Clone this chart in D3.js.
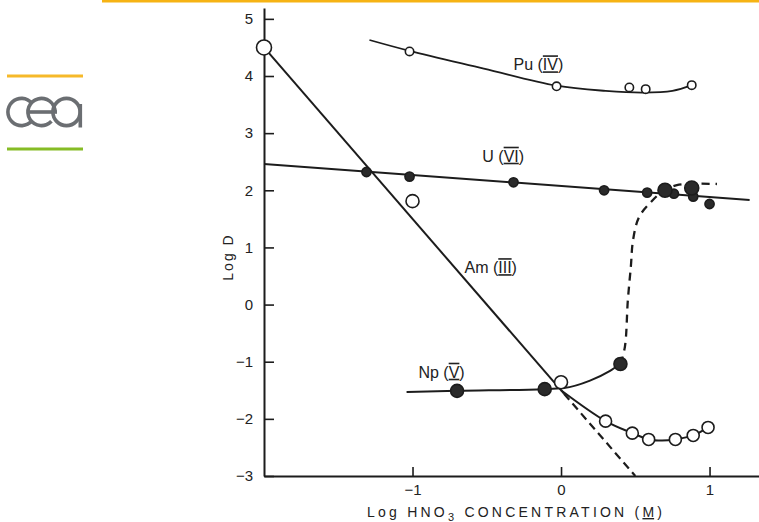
<!DOCTYPE html>
<html><head><meta charset="utf-8">
<script src="https://cdn.jsdelivr.net/npm/d3@7"></script>
<style>
html,body{margin:0;padding:0;background:#fff;}
svg text{font-family:"Liberation Sans",Arial,sans-serif;fill:#222;}
</style></head>
<body><svg id="c" width="759" height="522"></svg>
<script>
// ---- data ----
const yTicks = [-3,-2,-1,0,1,2,3,4,5];
const xTicks = [-1,0,1];
const amPoints = [[-2,4.5],[-1,1.81],[0,-1.36],[0.30,-2.04],[0.48,-2.25],[0.59,-2.36],[0.77,-2.36],[0.89,-2.29],[0.99,-2.15]];
const amRadius = [7.5,6.5,6.5,6,6,6,6,6,6];
const amLine = [[-2,4.5],[0.02,-1.56]];
const amDashed = [[0.02,-1.56],[0.5,-3]];
const amCurve = [[0.0,-1.5],[0.30,-2.04],[0.48,-2.25],[0.59,-2.36],[0.68,-2.38],[0.77,-2.36],[0.89,-2.29],[0.99,-2.15]];
const puPoints = [[-1.02,4.43],[-0.03,3.82],[0.46,3.80],[0.57,3.77],[0.88,3.84]];
const puCurve = [[-1.29,4.63],[-1.02,4.44],[-0.52,4.13],[-0.03,3.83],[0.3,3.74],[0.55,3.71],[0.75,3.74],[0.88,3.84]];
const uPoints = [[-1.31,2.32],[-1.02,2.24],[-0.32,2.14],[0.29,2.0],[0.58,1.96],[0.76,1.94],[0.89,1.89],[1.0,1.76]];
const uLine = [[-2,2.46],[1.27,1.83]];
const npPoints = [[-0.70,-1.51],[-0.11,-1.48],[0.40,-1.04]];
const npHigh = [[0.70,2.0],[0.88,2.04]];
const npCurve = [[-1.04,-1.53],[-0.70,-1.51],[-0.11,-1.48],[0.02,-1.46],[0.195,-1.33],[0.33,-1.16],[0.40,-1.04]];
const npDashed = [[0.40,-1.04],[0.43,-0.74],[0.45,0.08],[0.47,0.66],[0.485,1.13],[0.525,1.53],[0.60,1.78],[0.68,1.97],[0.78,2.09],[1.05,2.11]];
const labels = [
  {pre:"Pu (",num:"IV",post:")",x:-0.32,y:4.1},
  {pre:"U (",num:"VI",post:")",x:-0.53,y:2.5},
  {pre:"Am (",num:"III",post:")",x:-0.65,y:0.55},
  {pre:"Np (",num:"V",post:")",x:-0.96,y:-1.28}
];
const xLabel = ["Log  HNO","3","  CONCENTRATION (","M",")"];
const yLabel = "Log  D";

// ---- chart ----
const svg = d3.select("#c");
const ink = "#1c1c1c";
// decorative header/logo
svg.append("line").attr("x1",102).attr("x2",759).attr("y1",1).attr("y2",1).attr("stroke","#f6b314").attr("stroke-width",3);
const logo = svg.append("g");
logo.append("line").attr("x1",7).attr("x2",83).attr("y1",76).attr("y2",76).attr("stroke","#f6b92a").attr("stroke-width",3);
logo.append("line").attr("x1",7).attr("x2",83).attr("y1",149).attr("y2",149).attr("stroke","#86bc25").attr("stroke-width",3);
const lg = "#6b6e72", lw = 3.6, R = 11.8;
const arc = d3.arc();
const PI = Math.PI;
// c : opening on the right
logo.append("path").attr("transform","translate(21.5,112)")
  .attr("d",arc({innerRadius:R,outerRadius:R+lw,startAngle:PI/2+0.7,endAngle:PI/2+2*PI-0.7})).attr("fill",lg);
// e : opening lower right, bar across the middle
logo.append("path").attr("transform","translate(41.5,112)")
  .attr("d",arc({innerRadius:R,outerRadius:R+lw,startAngle:PI/2+0.75,endAngle:PI/2+2*PI})).attr("fill",lg);
logo.append("rect").attr("x",28).attr("y",110.2).attr("width",29).attr("height",lw).attr("fill",lg);
// a
logo.append("circle").attr("cx",66.5).attr("cy",112).attr("r",R+lw/2).attr("fill","none").attr("stroke",lg).attr("stroke-width",lw);
logo.append("rect").attr("x",78.5).attr("y",104).attr("width",lw).attr("height",23.5).attr("fill",lg);

const x = d3.scaleLinear().domain([-2,1.333]).range([264,759]);
const y = d3.scaleLinear().domain([-3,5.19]).range([476,8]);

const yAxis = svg.append("g").attr("transform","translate(264,0)")
  .call(d3.axisLeft(y).tickValues(yTicks).tickSize(-10).tickSizeOuter(0).tickPadding(11).tickFormat(d3.format("d")));
const xAxis = svg.append("g").attr("transform","translate(0,476)")
  .call(d3.axisBottom(x).tickValues(xTicks).tickSize(-9).tickSizeOuter(0).tickPadding(8).tickFormat(d3.format("d")));
[yAxis,xAxis].forEach(a=>{
  a.select(".domain").attr("stroke",ink).attr("stroke-width",2);
  a.selectAll(".tick line").attr("stroke",ink).attr("stroke-width",1.6);
  a.selectAll(".tick text").attr("font-size",15).attr("fill","#222")
    .style("font-family","'Liberation Sans',Arial,sans-serif");
});

const line = d3.line().x(d=>x(d[0])).y(d=>y(d[1]));
const smooth = d3.line().x(d=>x(d[0])).y(d=>y(d[1])).curve(d3.curveCatmullRom.alpha(0.5));
const mono = d3.line().x(d=>x(d[0])).y(d=>y(d[1])).curve(d3.curveMonotoneX);
function path(data,gen,dash,w){
  svg.append("path").attr("d",gen(data)).attr("fill","none").attr("stroke",ink)
    .attr("stroke-width",w||2).attr("stroke-dasharray",dash||null);
}
path(amLine,line);
path(amDashed,line,"8,5",2.2);
path(amCurve,smooth);
path(puCurve,smooth,null,1.8);
path(uLine,line,null,2);
path(npCurve,mono);
path(npDashed,smooth,"8,6",2.3);

function dots(data,r,filled){
  svg.append("g").selectAll("circle").data(data).join("circle")
    .attr("cx",d=>x(d[0])).attr("cy",d=>y(d[1]))
    .attr("r",(d,i)=>typeof r==="function"?r(d,i):r)
    .attr("fill",filled?"#2a2a2a":"#fff").attr("stroke",ink).attr("stroke-width",1.6);
}
dots(puPoints,4.2,false);
dots(uPoints,4.6,true);
dots(npHigh,7,true);
dots(npPoints,6.5,true);
dots(amPoints,(d,i)=>amRadius[i],false);

// species labels with barred roman numerals
labels.forEach(l=>{
  const t = svg.append("text").attr("x",x(l.x)).attr("y",y(l.y)).attr("font-size",16);
  t.append("tspan").text(l.pre);
  t.append("tspan").text(l.num).style("text-decoration","underline overline");
  t.append("tspan").text(l.post);
});

// axis titles
const xt = svg.append("text").attr("x",367).attr("y",517).attr("font-size",14)
  .attr("textLength",295).attr("lengthAdjust","spacing");
xt.append("tspan").text(xLabel[0]);
xt.append("tspan").text(xLabel[1]).attr("font-size",11).attr("dy",4);
xt.append("tspan").text(xLabel[2]).attr("dy",-4);
xt.append("tspan").text(xLabel[3]).style("text-decoration","underline");
xt.append("tspan").text(xLabel[4]);

svg.append("text").attr("transform","translate(233,257) rotate(-90)")
  .attr("text-anchor","middle").attr("font-size",14).attr("letter-spacing",2).text(yLabel);
</script></body></html>
